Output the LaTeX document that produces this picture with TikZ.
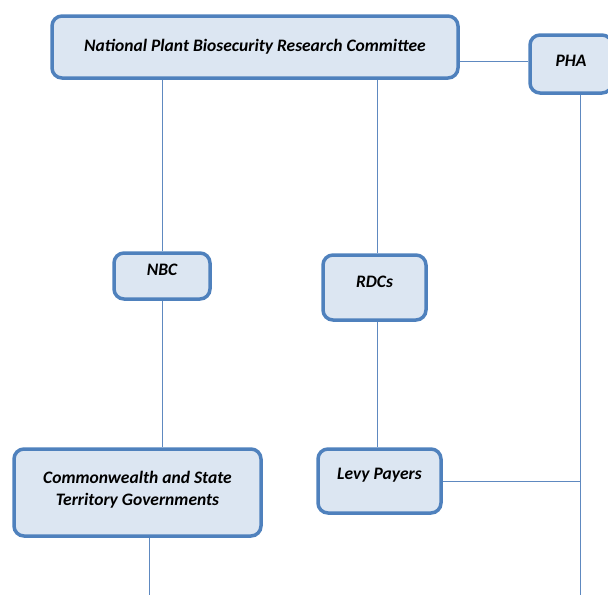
\documentclass[tikz,border=0pt]{standalone}
\usepackage{fontspec}
\newfontfamily\boxfont{Carlito}
\definecolor{boxfill}{HTML}{DCE6F2}
\definecolor{boxline}{HTML}{4F81BD}
\definecolor{linkline}{HTML}{5E89C0}
\tikzset{
    orgbox/.style = {draw = boxline, line width = 3.5pt, fill = boxfill, rounded corners = 10pt,
        align = center, font = \boxfont\bfseries\itshape\fontsize{17.5}{22}\selectfont},
    link/.style = {draw = linkline, line width = 1pt}
}
\begin{document}
\begin{tikzpicture}[x = 1pt, y = -1pt]
        \useasboundingbox (0,0) rectangle (608,595);
        \begin{scope}[every node/.append style = {orgbox}]
            \node[minimum width = 406pt, minimum height = 62pt] (npbrc) at (255,47) {National Plant Biosecurity Research Committee};
            \node[minimum width = 82pt, minimum height = 58pt, text depth = 6pt] (pha) at (571,64) {PHA};
            \node[minimum width = 96pt, minimum height = 46pt, text depth = 12pt] (nbc) at (162,276) {NBC};
            \node[minimum width = 103pt, minimum height = 65pt, text depth = 12pt] (rdcs) at (374.5,287.5) {RDCs};
            \node[minimum width = 247pt, minimum height = 87pt, text depth = 9pt] (cstg) at (137.5,492.5) {Commonwealth and State\\Territory Governments};
            \node[minimum width = 123pt, minimum height = 64pt, text depth = 15pt] (levy) at (379.5,481) {Levy Payers};
        \end{scope}
        \coordinate (phalink) at ([yshift = 3pt]pha.west);
        \coordinate (phadrop) at (580,595);
        \coordinate (cstgdrop) at (149,595);
        \begin{scope}[on background layer/.try]
            \draw[link] (npbrc.east |- phalink) -- (phalink);
            \draw[link] (nbc.north) -- (nbc.north |- npbrc.south);
            \draw[link] ([xshift = 2.5pt]rdcs.north) -- ([xshift = 2.5pt]rdcs.north |- npbrc.south);
            \draw[link] (nbc.south) -- (nbc.south |- cstg.north);
            \draw[link] ([xshift = 2.5pt]rdcs.south) -- ([xshift = 2.5pt]rdcs.south |- levy.north);
            \draw[link] (phadrop |- pha.south) -- (phadrop);
            \draw[link] (levy.east) -- (levy.east -| phadrop);
            \draw[link] (cstgdrop |- cstg.south) -- (cstgdrop);
        \end{scope}
    \end{tikzpicture}
\end{document}
